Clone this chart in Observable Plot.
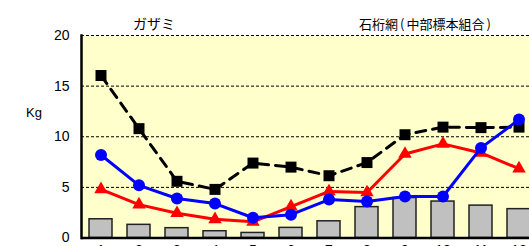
<!DOCTYPE html>
<html><head><meta charset="utf-8">
<script src="https://cdn.jsdelivr.net/npm/d3@7"></script>
<script src="https://cdn.jsdelivr.net/npm/@observablehq/plot@0.6"></script>
<style>
html,body{margin:0;padding:0;background:#fff;overflow:hidden;width:529px;height:246px}
#wrap{position:relative;width:529px;height:246px;overflow:hidden}
#chart svg{max-width:none !important;height:auto}
.t{position:absolute;color:#000;white-space:nowrap;line-height:1}
.cjk{font-family:"Noto Sans CJK JP",sans-serif}
.p{margin:0 2px}
</style></head><body>
<div id="wrap">
<div id="chart"></div>
<div class="t cjk" style="left:133px;top:16px;font-size:14px">ガザミ</div>
<div class="t cjk" style="left:359px;top:17px;font-size:13px">石桁網<span class="p">(</span>中部標本組合<span class="p">)</span></div>
<div class="t" style="left:26px;top:106px;font-size:13px;font-family:'Liberation Sans',Arial,sans-serif">Kg</div>
</div>
<script>
const months = [1,2,3,4,5,6,7,8,9,10,11,12];
const barValues = [1.85,1.3,0.97,0.67,0.5,1.0,1.65,3.05,3.95,3.6,3.2,2.85];
const blackValues = [16.05,10.8,5.6,4.8,7.4,7.0,6.15,7.45,10.2,10.95,10.9,10.95];
const blueValues = [8.2,5.2,3.9,3.4,2.0,2.3,3.8,3.6,4.1,4.1,8.9,11.7];
const redValues = [4.8,3.3,2.45,1.85,1.6,3.1,4.6,4.5,8.3,9.3,8.4,6.85];
const yTicks = [0,5,10,15,20];
const gridValues = [5,10,15,20];

const rows = months.map((m,i)=>({m:String(m), bar:barValues[i], black:blackValues[i], blue:blueValues[i], red:redValues[i]}));

const chart = Plot.plot({
  width: 545, height: 262,
  marginLeft: 81, marginRight: 8, marginTop: 35, marginBottom: 24.5,
  style: {fontFamily: "'Liberation Sans', Arial, sans-serif", fontSize: "14px", background: "transparent", color:"#000", maxWidth: "none"},
  x: {type: "band", domain: months.map(String), paddingInner: 0.4, paddingOuter: 0.2, label: null},
  y: {domain: [0,20], label: null},
  marks: [
    Plot.frame({fill: "#ffffcc", stroke: null}),
    Plot.ruleY(gridValues, {stroke: "#000", strokeWidth: 1, strokeDasharray: "3,2"}),
    Plot.barY(rows, {x: "m", y: "bar", fill: "#c0c0c0", stroke: "#222", strokeWidth: 1.5}),
    Plot.line(rows, {x: "m", y: "black", stroke: "#000", strokeWidth: 3, strokeDasharray: "10,7"}),
    Plot.dot(rows, {x: "m", y: "black", symbol: "square", fill: "#000", r: 6.2}),
    Plot.line(rows, {x: "m", y: "red", stroke: "#ff0000", strokeWidth: 3}),
    Plot.dot(rows, {x: "m", y: "red", symbol: "triangle", fill: "#ff0000", r: 5}),
    Plot.line(rows, {x: "m", y: "blue", stroke: "#0000ff", strokeWidth: 3}),
    Plot.dot(rows, {x: "m", y: "blue", symbol: "circle", fill: "#0000ff", r: 6}),
    Plot.ruleY([0], {stroke: "#000", strokeWidth: 2.5}),
    Plot.frame({anchor: "left", stroke: "#000", strokeWidth: 2.5}),
    Plot.axisY({ticks: yTicks, tickSize: 0, tickPadding: 12, label: null}),
    Plot.axisX({tickSize: 0, tickPadding: 7.5, label: null})
  ]
});
document.getElementById("chart").appendChild(chart);
</script>
</body></html>
